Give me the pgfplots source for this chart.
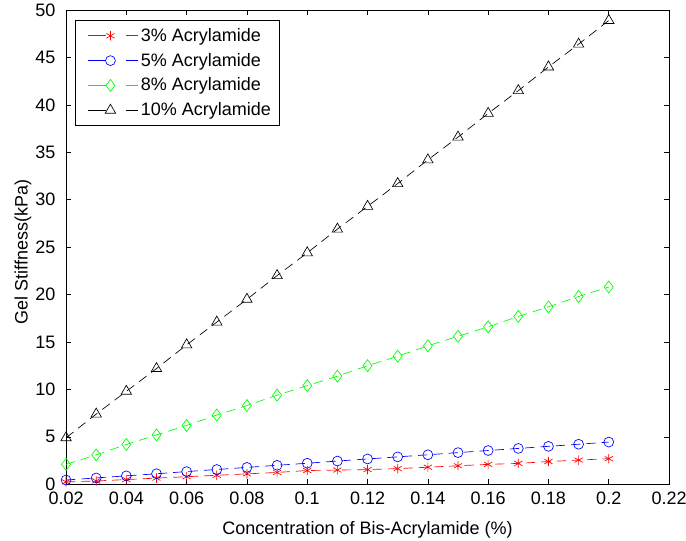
\documentclass[border=0pt]{standalone}
\usepackage{pgfplots}
\pgfplotsset{compat=1.18}
\usepackage{fontspec}
\setmainfont{Liberation Sans}
\definecolor{mred}{rgb}{1,0,0}
\definecolor{mblue}{rgb}{0,0,1}
\definecolor{mgreen}{rgb}{0,1,0}
\begin{document}
\begin{tikzpicture}
\begin{axis}[
  name=ax,
  scale only axis,
  width=452pt, height=355.5pt,
  xmin=0.02, xmax=0.22, ymin=0, ymax=50,
  xtick={0.02,0.04,...,0.22}, ytick={0,5,...,50},
  tick align=inside, tick pos=both,
  major tick length=4pt,
  /pgf/number format/assume math mode=true,
  /pgf/number format/fixed, /pgf/number format/precision=2,
  ticklabel style={font=\fontsize{13.5}{16}\selectfont},
  xticklabel style={yshift=-2.3pt},
  yticklabel style={xshift=-4.5pt},
  label style={font=\fontsize{13.5}{16}\selectfont},
  xlabel={Concentration of Bis-Acrylamide (\%)},
  ylabel={Gel Stiffness(kPa)},
  xlabel style={at={(axis description cs:0.5,-0.095)}, anchor=center},
  ylabel style={at={(axis description cs:-0.0714,0.49)}, anchor=center, rotate=0},
  axis line style={line width=0.5pt},
  every tick/.style={black, line width=0.5pt},
  legend style={at={(0.015,0.979)}, anchor=north west, draw=black, line width=0.5pt,
    font=\fontsize{13.5}{16}\selectfont, row sep=3.3pt, inner sep=4pt,
    nodes={inner sep=2pt}, cells={anchor=west}},
  legend image code/.code={%
    \path (0pt,0pt);
    \draw[#1, mark=none, dash pattern=on 13.5pt off 15pt] (5pt,0pt) -- (42.5pt,0pt);
    \draw[#1, solid, only marks] plot coordinates {(22pt,0pt)};},
  every axis plot/.append style={line width=0.5pt, dash pattern=on 7pt off 4.5pt},
]
\addplot[mred, mark=asterisk, mark size=3.5pt, mark options={solid}] coordinates {
(0.02,0.25)(0.03,0.35)(0.04,0.5)(0.05,0.65)(0.06,0.8)(0.07,0.95)(0.08,1.1)(0.09,1.25)(0.10,1.45)(0.11,1.5)(0.12,1.55)(0.13,1.65)(0.14,1.8)(0.15,1.95)(0.16,2.1)(0.17,2.2)(0.18,2.4)(0.19,2.55)(0.20,2.7)};
\addlegendentry{3\% Acrylamide}
\addplot[mblue, mark=o, mark size=3.7pt, mark options={solid}] coordinates {
(0.02,0.45)(0.03,0.67)(0.04,0.89)(0.05,1.11)(0.06,1.34)(0.07,1.56)(0.08,1.78)(0.09,2.0)(0.10,2.22)(0.11,2.45)(0.12,2.67)(0.13,2.89)(0.14,3.11)(0.15,3.34)(0.16,3.56)(0.17,3.78)(0.18,4.0)(0.19,4.22)(0.20,4.45)};
\addlegendentry{5\% Acrylamide}
\addplot[mgreen, mark=diamond, mark size=4.5pt, mark options={solid}] coordinates {
(0.02,2.1)(0.03,3.1)(0.04,4.2)(0.05,5.2)(0.06,6.2)(0.07,7.3)(0.08,8.3)(0.09,9.4)(0.10,10.4)(0.11,11.4)(0.12,12.5)(0.13,13.5)(0.14,14.6)(0.15,15.6)(0.16,16.6)(0.17,17.7)(0.18,18.7)(0.19,19.8)(0.20,20.8)};
\addlegendentry{8\% Acrylamide}
\addplot[black, mark=triangle, mark size=4.5pt, mark options={solid}] coordinates {
(0.02,4.9)(0.03,7.4)(0.04,9.8)(0.05,12.2)(0.06,14.7)(0.07,17.1)(0.08,19.5)(0.09,22.0)(0.10,24.4)(0.11,26.9)(0.12,29.3)(0.13,31.7)(0.14,34.2)(0.15,36.6)(0.16,39.1)(0.17,41.5)(0.18,44.0)(0.19,46.4)(0.20,48.9)};
\addlegendentry{10\% Acrylamide}
\end{axis}
\pgfresetboundingbox
\path[use as bounding box] ([shift={(-49.5pt,-42pt)}]ax.south west) rectangle ([shift={(12.7pt,7.5pt)}]ax.north east);
\end{tikzpicture}
\end{document}
